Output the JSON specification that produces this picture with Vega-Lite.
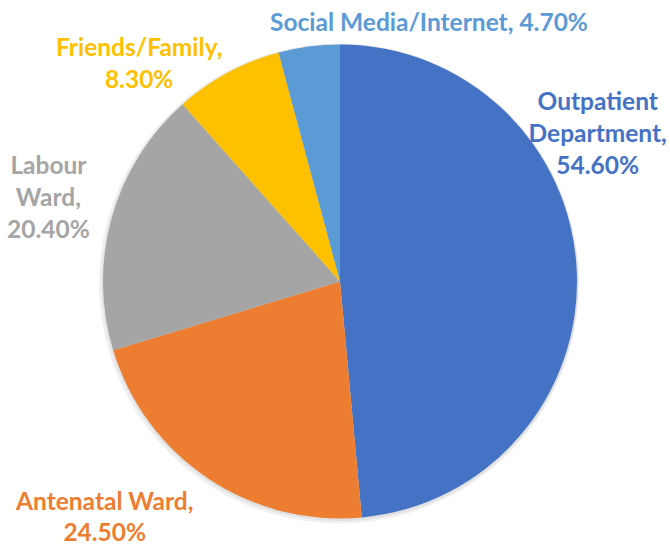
{
  "$schema": "https://vega.github.io/schema/vega-lite/v6.json",
  "autosize": {"type": "none"},
  "width": 660,
  "height": 531,
  "padding": {"left": 10, "top": 16, "right": 0, "bottom": 0},
  "background": "white",
  "config": {"view": {"stroke": null}},
  "data": {
    "values": [
      {"source": "Outpatient Department", "pct": 54.6, "rank": 1, "label": "Outpatient\nDepartment,\n54.60%"},
      {"source": "Antenatal Ward", "pct": 24.5, "rank": 2, "label": "Antenatal Ward,\n24.50%"},
      {"source": "Labour Ward", "pct": 20.4, "rank": 3, "label": "Labour\nWard,\n20.40%"},
      {"source": "Friends/Family", "pct": 8.3, "rank": 4, "label": "Friends/Family,\n8.30%"},
      {"source": "Social Media/Internet", "pct": 4.7, "rank": 5, "label": "Social Media/Internet, 4.70%"}
    ]
  },
  "encoding": {
    "theta": {"field": "pct", "type": "quantitative", "stack": true},
    "order": {"field": "rank", "type": "quantitative"},
    "color": {
      "field": "source",
      "type": "nominal",
      "scale": {
        "domain": ["Outpatient Department", "Antenatal Ward", "Labour Ward", "Friends/Family", "Social Media/Internet"],
        "range": ["#4472C4", "#ED7D31", "#A5A5A5", "#FFC000", "#5B9BD5"]
      },
      "legend": null
    }
  },
  "layer": [
    {"mark": {"type": "arc", "radius": 240, "yOffset": 2, "xOffset": -1, "fill": "#000000", "fillOpacity": 0.06, "strokeWidth": 0}},
    {"mark": {"type": "arc", "radius": 238.5, "yOffset": 1, "fill": "#000000", "fillOpacity": 0.06, "strokeWidth": 0}},
    {"mark": {"type": "arc", "radius": 237, "strokeWidth": 0}},
    {
      "mark": {"type": "text", "radius": 260, "dx": -2, "dy": -167, "font": "Lato", "fontWeight": "bold", "fontSize": 24.5, "lineHeight": 32, "lineBreak": "\n", "align": "center", "baseline": "middle"},
      "encoding": {"text": {"condition": {"test": "datum.rank == 1", "field": "label"}, "value": ""}}
    },
    {
      "mark": {"type": "text", "radius": 280, "dx": -79, "dy": -11, "font": "Lato", "fontWeight": "bold", "fontSize": 24.5, "lineHeight": 31, "lineBreak": "\n", "align": "center", "baseline": "middle"},
      "encoding": {"text": {"condition": {"test": "datum.rank == 2", "field": "label"}, "value": ""}}
    },
    {
      "mark": {"type": "text", "radius": 304, "dx": 1, "dy": -32, "font": "Lato", "fontWeight": "bold", "fontSize": 24.5, "lineHeight": 32, "lineBreak": "\n", "align": "center", "baseline": "middle"},
      "encoding": {"text": {"condition": {"test": "datum.rank == 3", "field": "label"}, "value": ""}}
    },
    {
      "mark": {"type": "text", "radius": 280, "dx": -68, "dy": 14, "font": "Lato", "fontWeight": "bold", "fontSize": 24.5, "lineHeight": 32, "lineBreak": "\n", "align": "center", "baseline": "middle"},
      "encoding": {"text": {"condition": {"test": "datum.rank == 4", "field": "label"}, "value": ""}}
    },
    {
      "mark": {"type": "text", "radius": 260, "dx": 123, "dy": 0, "font": "Lato", "fontWeight": "bold", "fontSize": 24.5, "lineHeight": 32, "lineBreak": "\n", "align": "center", "baseline": "middle"},
      "encoding": {"text": {"condition": {"test": "datum.rank == 5", "field": "label"}, "value": ""}}
    }
  ]
}
